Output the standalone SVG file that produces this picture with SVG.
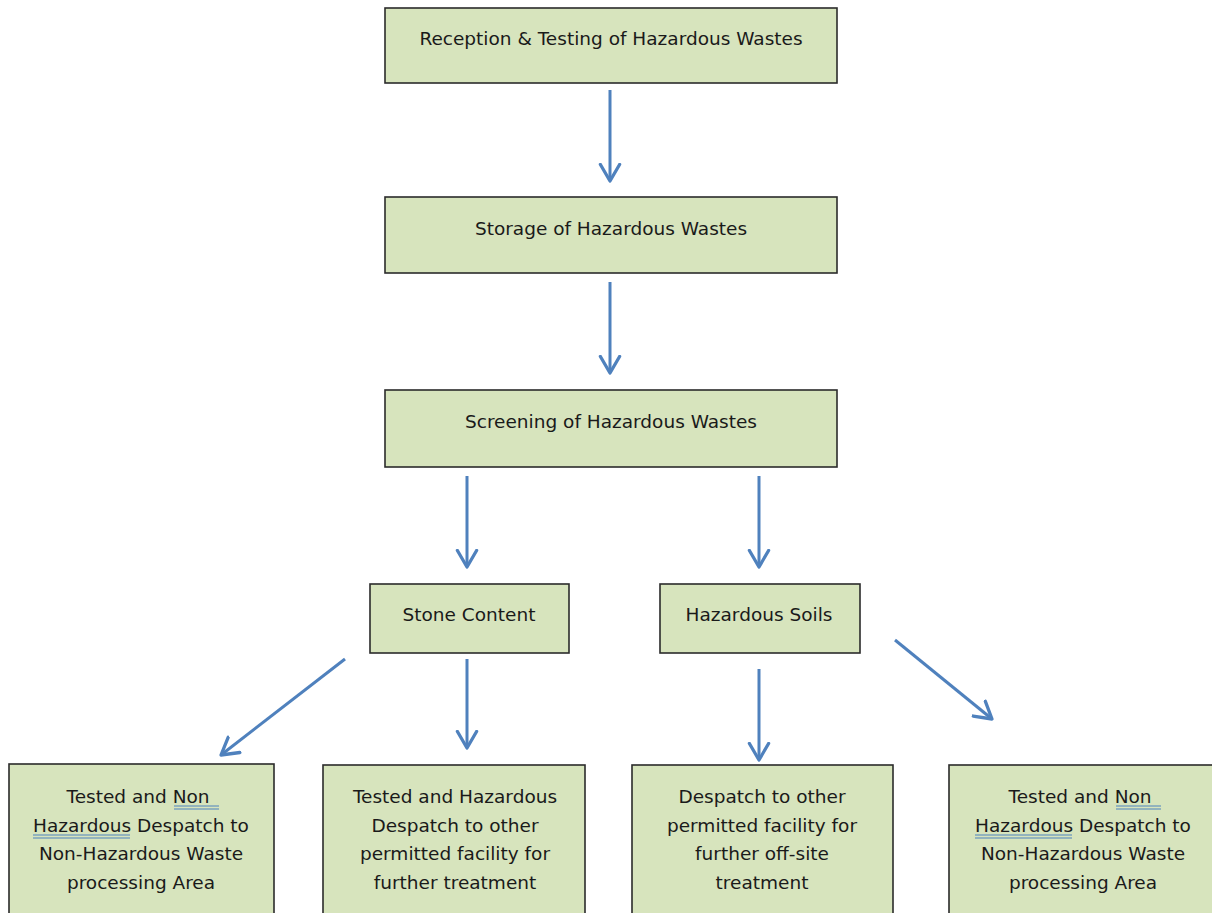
<svg xmlns="http://www.w3.org/2000/svg" width="1212" height="913" viewBox="0 0 1212 913">
<style>
.box{fill:#d7e4bd;stroke:#2b2b2b;stroke-width:1.6}
.t{font-family:"DejaVu Sans","Liberation Sans",sans-serif;font-size:18.5px;fill:#1a1a1a;text-anchor:middle}
.c{stroke:#4f81bd;stroke-width:3;fill:none;marker-end:url(#ah)}
.sp{stroke:#4f81bd;stroke-width:1.2}
</style>
<defs>
<marker id="ah" markerWidth="8" markerHeight="8" refX="6" refY="4" orient="auto" markerUnits="strokeWidth">
<path d="M0.5,0.8 L6,4 L0.5,7.2" fill="none" stroke="#4f81bd" stroke-width="1.1" stroke-linecap="round" stroke-linejoin="round"/>
</marker>
</defs>
<rect width="1212" height="913" fill="#ffffff"/>
<g id="n1"><rect class="box" x="385" y="8" width="452" height="75"/><text class="t" x="611" y="45">Reception &amp; Testing of Hazardous Wastes</text></g>
<g id="n2"><rect class="box" x="385" y="197" width="452" height="76"/><text class="t" x="611" y="235">Storage of Hazardous Wastes</text></g>
<g id="n3"><rect class="box" x="385" y="390" width="452" height="77"/><text class="t" x="611" y="428">Screening of Hazardous Wastes</text></g>
<g id="n4"><rect class="box" x="370" y="584" width="199" height="69"/><text class="t" x="469" y="621">Stone Content</text></g>
<g id="n5"><rect class="box" x="660" y="584" width="200" height="69"/><text class="t" x="759" y="621">Hazardous Soils</text></g>
<g id="n6"><rect class="box" x="9" y="764" width="265" height="160"/>
<text class="t"><tspan x="141" y="803">Tested and Non </tspan><tspan x="141" y="832">Hazardous Despatch to</tspan><tspan x="141" y="860">Non-Hazardous Waste</tspan><tspan x="141" y="889">processing Area</tspan></text>
<line class="sp" x1="174" y1="806" x2="219" y2="806"/><line class="sp" x1="174" y1="809" x2="219" y2="809"/>
<line class="sp" x1="33" y1="835" x2="130" y2="835"/><line class="sp" x1="33" y1="838" x2="130" y2="838"/>
</g>
<g id="n7"><rect class="box" x="323" y="765" width="262" height="160"/>
<text class="t"><tspan x="455" y="803">Tested and Hazardous</tspan><tspan x="455" y="832">Despatch to other</tspan><tspan x="455" y="860">permitted facility for</tspan><tspan x="455" y="889">further treatment</tspan></text></g>
<g id="n8"><rect class="box" x="632" y="765" width="261" height="160"/>
<text class="t"><tspan x="762" y="803">Despatch to other</tspan><tspan x="762" y="832">permitted facility for</tspan><tspan x="762" y="860">further off-site</tspan><tspan x="762" y="889">treatment</tspan></text></g>
<g id="n9"><rect class="box" x="949" y="765" width="270" height="160"/>
<text class="t"><tspan x="1083" y="803">Tested and Non </tspan><tspan x="1083" y="832">Hazardous Despatch to</tspan><tspan x="1083" y="860">Non-Hazardous Waste</tspan><tspan x="1083" y="889">processing Area</tspan></text>
<line class="sp" x1="1116" y1="806" x2="1161" y2="806"/><line class="sp" x1="1116" y1="809" x2="1161" y2="809"/>
<line class="sp" x1="975" y1="835" x2="1072" y2="835"/><line class="sp" x1="975" y1="838" x2="1072" y2="838"/>
</g>
<g id="connectors">
<line class="c" x1="610" y1="90" x2="610" y2="181"/>
<line class="c" x1="610" y1="282" x2="610" y2="373"/>
<line class="c" x1="467" y1="476" x2="467" y2="567"/>
<line class="c" x1="759" y1="476" x2="759" y2="567"/>
<line class="c" x1="345" y1="659" x2="221" y2="755"/>
<line class="c" x1="467" y1="659" x2="467" y2="748"/>
<line class="c" x1="759" y1="669" x2="759" y2="760"/>
<line class="c" x1="895" y1="640" x2="992" y2="719"/>
</g>
</svg>
